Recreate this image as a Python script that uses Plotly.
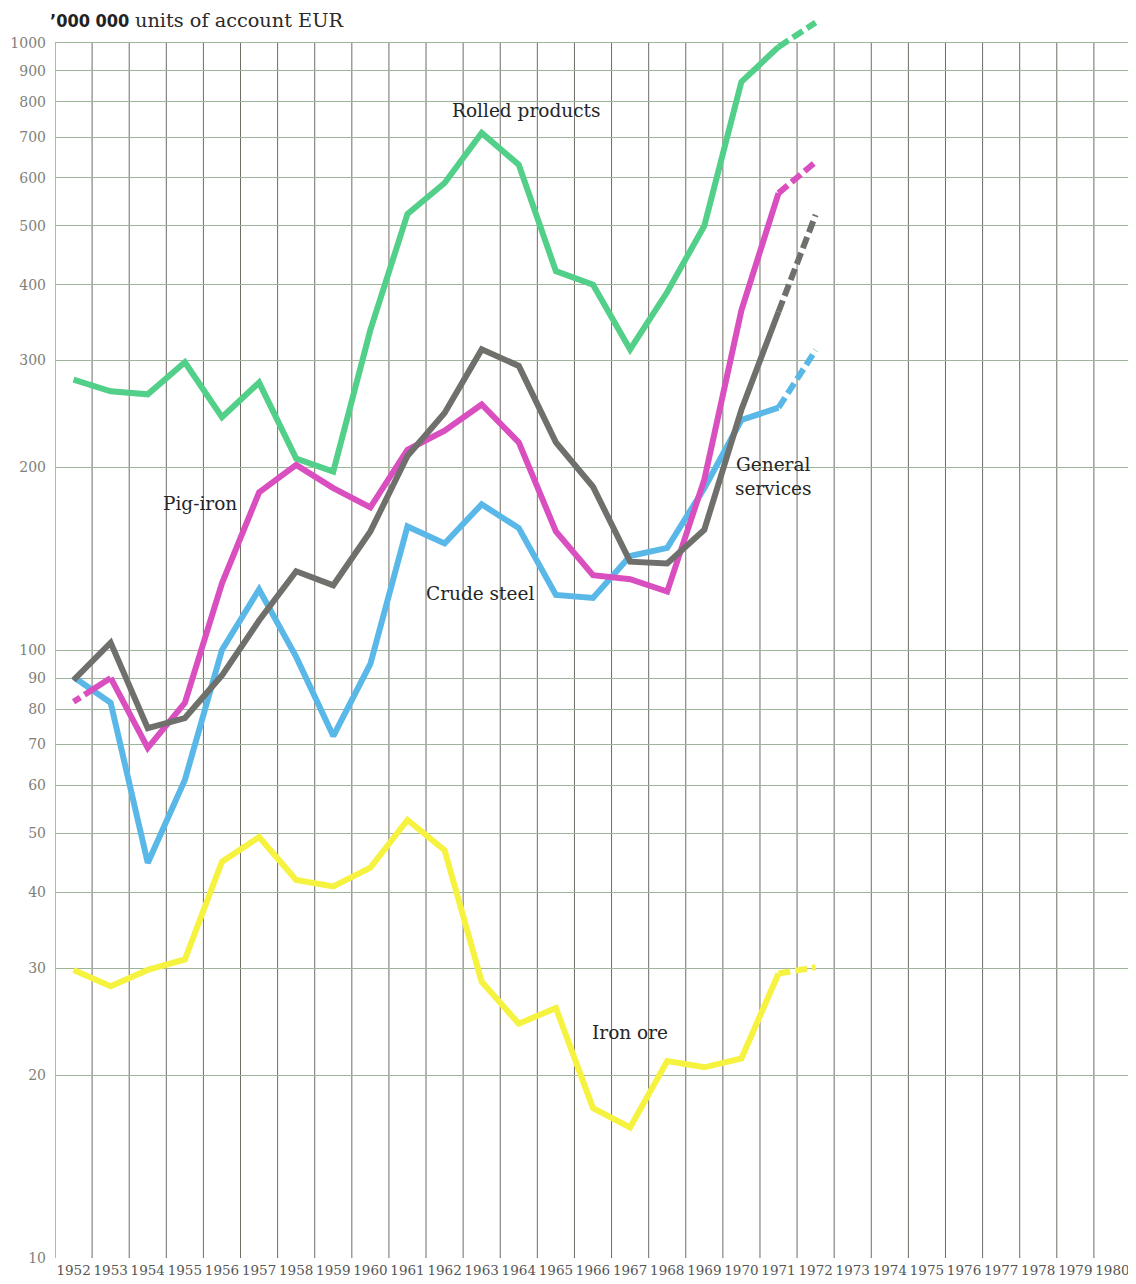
import math
import plotly.graph_objects as go

# ---- data ----
years = list(range(1952, 1973))
tick_years = list(range(1952, 1981))

rolled_products = [279, 267, 264, 298, 242, 276, 207, 197, 337, 523, 588, 711, 630, 421, 400, 313, 389, 500, 863, 985, 1080]
pig_iron = [82.3, 90.1, 69.1, 82, 129, 182, 202, 185, 172, 214, 230, 254, 220, 157, 133, 131, 125, 191, 363, 566, 637]
general_services = [89.4, 103, 74.5, 77.4, 91, 112, 135, 128, 157, 209, 246, 313, 294, 220, 186, 140, 139, 158, 249, 361, 521]
crude_steel = [90.4, 82, 44.7, 61.2, 100.2, 126, 97.6, 72.3, 95, 160, 150, 174, 159, 123.4, 122, 143, 147.5, 185, 239.5, 251, 312]
iron_ore = [29.8, 28.0, 29.8, 31.0, 44.9, 49.3, 41.9, 40.9, 43.9, 52.6, 46.9, 28.5, 24.3, 25.8, 17.65, 16.4, 21.1, 20.6, 21.3, 29.4, 30.1]

y_ticks = [10, 20, 30, 40, 50, 60, 70, 80, 90, 100, 200, 300, 400, 500, 600, 700, 800, 900, 1000]
y_ticktext = [str(v) for v in y_ticks]

# ---- styling ----
SERIF = "DejaVu Serif"
colors = {
    "rolled": "#52cf88",
    "pig": "#d94fbf",
    "general": "#6f6f6c",
    "crude": "#5ab8e8",
    "ore": "#f6f240",
}
LW = 6
DASH = "12px,5px"

y_top = 1120
log_lo, log_hi = 1.0, math.log10(y_top)
frac_1000 = (3 - log_lo) / (log_hi - log_lo)

fig = go.Figure()


def add_series(vals, color, dashed_start=False):
    # projected last segment (1971-1972) dashed
    start = 1 if dashed_start else 0
    if dashed_start:
        fig.add_trace(go.Scatter(x=years[0:2], y=vals[0:2], mode="lines",
                                 line=dict(color=color, width=LW, dash="8px,5px,200px"),
                                 hoverinfo="skip", showlegend=False))
    fig.add_trace(go.Scatter(x=years[start:20], y=vals[start:20], mode="lines",
                             line=dict(color=color, width=LW),
                             showlegend=False))
    fig.add_trace(go.Scatter(x=years[19:21], y=vals[19:21], mode="lines",
                             line=dict(color=color, width=LW, dash=DASH),
                             hoverinfo="skip", showlegend=False))


add_series(iron_ore, colors["ore"])
add_series(rolled_products, colors["rolled"])
add_series(crude_steel, colors["crude"])
add_series(pig_iron, colors["pig"], dashed_start=True)
add_series(general_services, colors["general"])

# vertical grid lines (year boundaries), from 10 up to 1000
shapes = []
for k in range(len(tick_years) + 1):
    xv = tick_years[0] - 0.5 + k
    shapes.append(dict(type="line", xref="x", yref="paper", x0=xv, x1=xv, y0=0, y1=frac_1000,
                       line=dict(color="#706c64", width=1), layer="below"))

label_font = dict(family=SERIF, size=18.5, color="#262626")
annotations = [
    dict(x=1964.2, y=2.888, text="Rolled products"),
    dict(x=1955.4, y=2.2412, text="Pig-iron"),
    dict(x=1962.95, y=2.093, text="Crude steel"),
    dict(x=1970.84, y=2.2856, text="General<br>services"),
    dict(x=1967.0, y=1.3704, text="Iron ore"),
]
for a in annotations:
    a.update(xref="x", yref="y", showarrow=False, font=label_font, align="center",
             xanchor="center", yanchor="middle")

annotations.append(dict(xref="paper", yref="paper", x=(48 - 55) / 1076, y=(1258 - 20) / 1245,
                        text="<b>’000 000</b>", showarrow=False, xanchor="left", yanchor="middle",
                        font=dict(family="DejaVu Sans Condensed, DejaVu Sans", size=18, color="#222222")))
annotations.append(dict(xref="paper", yref="paper", x=(133 - 55) / 1076, y=(1258 - 20) / 1245,
                        text="units of account EUR", showarrow=False, xanchor="left", yanchor="middle",
                        font=dict(family=SERIF, size=19.3, color="#2a2a2a")))

# page body has an 8px default margin, so the figure is sized/placed to compensate
fig.update_layout(
    width=1128, height=1276,
    margin=dict(l=47, r=5, t=5, b=26),
    paper_bgcolor="white", plot_bgcolor="white",
    shapes=shapes, annotations=annotations,
    xaxis=dict(range=[tick_years[0] - 0.5, tick_years[-1] + 0.5], tickmode="array",
               tickvals=tick_years, ticktext=[str(y) for y in tick_years],
               showgrid=False, zeroline=False, showline=False, ticks="", automargin=False,
               tickfont=dict(family=SERIF, size=13.5, color="#555555"), ticklabelstandoff=2),
    yaxis=dict(type="log", range=[log_lo, log_hi], tickmode="array",
               tickvals=y_ticks, ticktext=y_ticktext, showgrid=True, automargin=False,
               gridcolor="#9db39a", gridwidth=1, zeroline=False, showline=False, ticks="",
               tickfont=dict(family=SERIF, size=14, color="#80807a"), ticklabelstandoff=8),
)

fig.write_html("out.html")
